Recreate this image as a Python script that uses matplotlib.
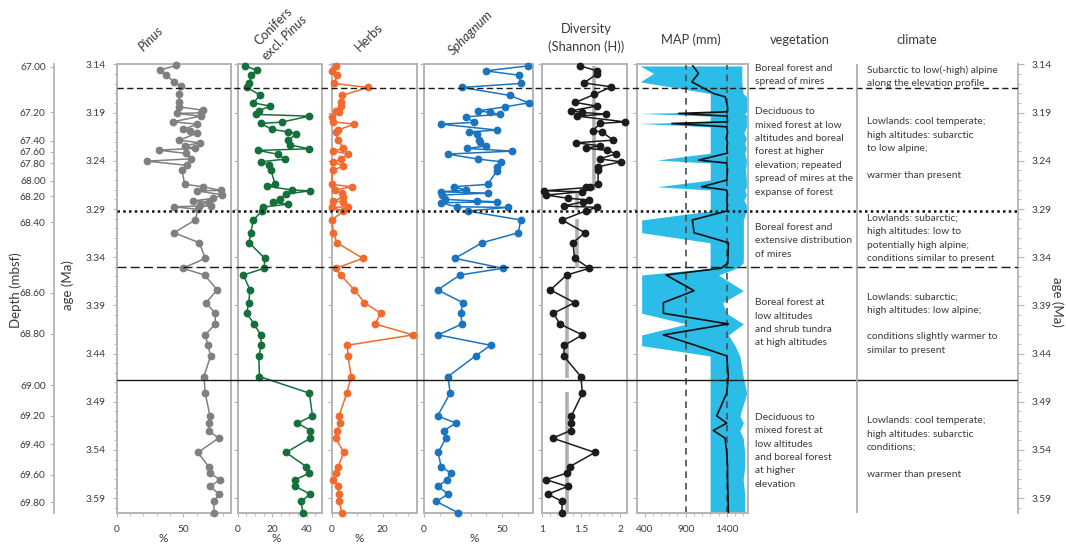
import matplotlib
matplotlib.use('Agg')
import matplotlib.pyplot as plt
from matplotlib.ticker import FixedLocator, MultipleLocator

plt.rcParams['font.family'] = ['Lato', 'DejaVu Sans']
plt.rcParams['mathtext.fontset'] = 'custom'
plt.rcParams['mathtext.rm'] = 'Lato'
plt.rcParams['mathtext.it'] = 'Lato:italic'

# ---------------- data ----------------
age_ticks = [3.14, 3.19, 3.24, 3.29, 3.34, 3.39, 3.44, 3.49, 3.54, 3.59]
depth_ticks = ["67.00", "67.20", "67.40", "67.60", "67.80", "68.00", "68.20", "68.40",
               "68.60", "68.80", "69.00", "69.20", "69.40", "69.60", "69.80"]
depth_tick_age = [3.1425, 3.1898, 3.2192, 3.2306, 3.2427, 3.2607, 3.2766, 3.3035,
                  3.3770, 3.4197, 3.4729, 3.5044, 3.5344, 3.5656, 3.5942]

# zone boundaries (age, Ma)
zone_dashed_top = 3.1639
zone_dotted = 3.2921
zone_dashed_mid = 3.3505
zone_solid = 3.4673

# shared sample ages of the lower (sparser) part
lower_age = [3.3014, 3.3146, 3.3250, 3.3412, 3.3515, 3.3585, 3.3740, 3.3872, 3.3982,
             3.4093, 3.4207, 3.4314, 3.4425, 3.4639, 3.4811, 3.5047, 3.5122, 3.5199,
             3.5278, 3.5427, 3.5573, 3.5641, 3.5710, 3.5780, 3.5859, 3.5935, 3.6050]

pinus_up_age = [3.1410, 3.1459, 3.1504, 3.1584, 3.1625, 3.1711, 3.1791, 3.1840, 3.1874,
                3.1902, 3.1908, 3.1936, 3.1995, 3.2019, 3.2074, 3.2092, 3.2115, 3.2185,
                3.2213, 3.2244, 3.2271, 3.2289, 3.2323, 3.2379, 3.2403, 3.2447, 3.2493,
                3.2644, 3.2669, 3.2707, 3.2711, 3.2752, 3.2789, 3.2817, 3.2825, 3.2859,
                3.2866, 3.2877, 3.2904]
pinus_up = [44.5, 32.5, 37, 43, 48, 46.5, 47, 46.5, 65, 63, 45, 63, 42, 60.5, 50, 55, 60,
            47, 62.5, 51, 59, 31.5, 52, 56, 22.5, 53, 49, 51, 65, 78, 60, 79, 72.5, 57,
            69, 62.5, 71, 43, 61]
pinus_low = [59, 43, 62, 66.5, 49.5, 66, 75.5, 67, 74, 74, 66.5, 68.5, 70.5, 65.5, 66.5,
             70, 69, 69, 76.5, 61, 69, 70, 77.5, 70, 77, 73, 73]

conif_up_age = [3.1415, 3.1462, 3.1511, 3.1591, 3.1638, 3.1718, 3.1798, 3.1832, 3.1881,
                3.1918, 3.1936, 3.1998, 3.2012, 3.2074, 3.2099, 3.2120, 3.2188, 3.2234,
                3.2275, 3.2292, 3.2333, 3.2382, 3.2410, 3.2444, 3.2496, 3.2641, 3.2662,
                3.2703, 3.2711, 3.2745, 3.2794, 3.2831, 3.2849, 3.2880, 3.2918]
conif_up = [4.4, 11.4, 7.9, 6.8, 5.4, 12.9, 9.1, 18.7, 12.2, 10.6, 41.5, 25.5, 13.7, 19.7,
            29.4, 34, 29, 30.3, 41.2, 11.8, 23.6, 27.2, 13.7, 18.4, 19.3, 21.6, 16.8, 31.5,
            41.9, 28, 24.5, 20.3, 29.4, 14.5, 14.1]
conif_low = [9.1, 7.5, 6.6, 15.7, 15.3, 3.3, 7.1, 6.4, 5.2, 9.5, 13.3, 13.7, 12.2, 12.6,
             41.5, 43.3, 34.6, 42.1, 42.1, 28, 39.6, 41.5, 33.4, 33.4, 42.1, 36.7, 37.7]

herbs_up_age = [3.1415, 3.1466, 3.1511, 3.1597, 3.1638, 3.1721, 3.1794, 3.1829, 3.1881,
                3.1898, 3.1943, 3.1995, 3.2019, 3.2081, 3.2099, 3.2185, 3.2271, 3.2296,
                3.2330, 3.2385, 3.2410, 3.2455, 3.2496, 3.2644, 3.2669, 3.2703, 3.2735,
                3.2773, 3.2817, 3.2825, 3.2877, 3.2883, 3.2921]
herbs_up = [1.6, 0, 2.2, 1, 14.1, 4.2, 3.5, 3.5, 1.6, 3, 0, 0.7, 8.8, 2.4, 1.6, 2.4, 4.6,
            0.7, 6.3, 3.5, 0.7, 4.6, 0.4, 0, 7.8, 1.3, 3.9, 4.6, 0.7, 4.6, 6.5, 0, 4.6]
herbs_low = [0, 0.7, 2, 12.2, 1.7, 3.5, 8.9, 12.8, 19.2, 17, 31.8, 6.1, 6.4, 7.6, 5.9, 2.9,
             3.3, 2.2, 1.6, 4.7, 2.6, 1.6, 0.7, 2.6, 2.9, 3, 3.9]

sphag_up_age = [3.1415, 3.1466, 3.1511, 3.1597, 3.1638, 3.1721, 3.1798, 3.1840, 3.1881,
                3.1898, 3.1918, 3.1943, 3.2001, 3.2019, 3.2081, 3.2099, 3.2123, 3.2185,
                3.2209, 3.2247, 3.2271, 3.2299, 3.2330, 3.2382, 3.2410, 3.2462, 3.2503,
                3.2644, 3.2669, 3.2703, 3.2721, 3.2735, 3.2755, 3.2800, 3.2817, 3.2825,
                3.2835, 3.2877, 3.2883, 3.2921]
sphag_up = [66.6, 39.4, 60.9, 61.9, 24.5, 54.9, 67, 51.9, 34.7, 42.3, 48.5, 26.6, 32.1,
            10.9, 47, 29.1, 34, 35.3, 35.7, 39.8, 27.4, 56.4, 15.1, 34.7, 49.6, 46.6, 46.6,
            40.9, 18.9, 27.2, 10.9, 40.9, 11.3, 13.4, 34, 47, 10.9, 20.9, 53.8, 27.9]
sphag_low = [61.9, 60.4, 37.2, 19.8, 50.4, 23, 8.7, 24.9, 23.6, 24.3, 9.1, 42.6, 33, 15.3,
             16.8, 8.7, 20.4, 12.8, 14, 9.1, 10.9, 17.2, 14.5, 9.1, 15.5, 7.9, 21.5]

div_up_age = [3.1415, 3.1466, 3.1501, 3.1591, 3.1632, 3.1711, 3.1794, 3.1832, 3.1881,
              3.1898, 3.1915, 3.1936, 3.1995, 3.2012, 3.2089, 3.2099, 3.2185, 3.2213,
              3.2244, 3.2268, 3.2292, 3.2327, 3.2379, 3.2410, 3.2462, 3.2496, 3.2644,
              3.2669, 3.2675, 3.2711, 3.2721, 3.2755, 3.2789, 3.2807, 3.2825, 3.2869,
              3.2883, 3.2918]
div_up = [1.49, 1.71, 1.70, 1.54, 1.89, 1.67, 1.43, 1.70, 1.37, 1.52, 1.82, 1.45, 2.06,
          1.75, 1.65, 1.77, 1.91, 1.44, 1.75, 1.56, 1.84, 1.95, 1.74, 2.01, 1.72, 1.72,
          1.72, 1.57, 1.62, 1.03, 1.51, 1.06, 1.34, 1.61, 1.53, 1.28, 1.70, 1.57]
div_low = [1.26, 1.55, 1.40, 1.42, 1.61, 1.32, 1.11, 1.42, 1.15, 1.23, 1.52, 1.29, 1.28,
           1.50, 1.52, 1.38, 1.38, 1.37, 1.14, 1.68, 1.36, 1.32, 1.06, 1.33, 1.08, 1.26, 1.26]

# zone means of diversity
div_mean_top = [3.1415, 3.2711, 3.3007, 3.3564, 3.4795]
div_mean_bot = [3.2703, 3.2911, 3.3515, 3.4653, 3.6052]
div_mean_val = [1.67, 1.45, 1.45, 1.32, 1.32]

# MAP reconstruction (mm): min, mean, max
map_age = [3.1415, 3.1493, 3.1580, 3.1701, 3.1736, 3.1840, 3.1891, 3.1908, 3.1936, 3.1995,
           3.2012, 3.2047, 3.2112, 3.2164, 3.2216, 3.2268, 3.2320, 3.2392, 3.2423, 3.2496,
           3.2600, 3.2669, 3.2703, 3.2755, 3.2807, 3.2859, 3.2921, 3.3014, 3.3146, 3.3250,
           3.3408, 3.3463, 3.3515, 3.3585, 3.3748, 3.3872, 3.3982, 3.4093, 3.4207, 3.4318,
           3.4425, 3.4639, 3.4811, 3.5047, 3.5122, 3.5199, 3.5278, 3.5427, 3.5573, 3.5710,
           3.5856, 3.6050]
map_min = [345, 507, 345, 1199, 1199, 1199, 1199, 345, 1199, 1199, 330, 1199, 1199, 1199,
           1199, 1199, 1199, 548, 1199, 1199, 1199, 548, 1199, 1199, 1199, 1199, 1199, 363,
           363, 1197, 1197, 1197, 1197, 363, 363, 363, 363, 912, 363, 363, 1197, 1197, 1197,
           1197, 1197, 1197, 1197, 1197, 1197, 1197, 1197, 1197]
map_mean = [987, 1056, 974, 1239, 1382, 1410, 1410, 812, 1405, 1410, 731, 1400, 1410, 1395,
            1410, 1400, 1410, 1056, 1400, 1410, 1400, 1096, 1400, 1410, 1400, 1410, 1400, 981,
            1002, 1420, 1415, 1412, 1330, 660, 1002, 628, 628, 1420, 628, 1030, 1400, 1420,
            1400, 1278, 1400, 1237, 1380, 1400, 1410, 1410, 1415, 1420]
map_max = [1584, 1584, 1584, 1600, 1645, 1645, 1645, 1620, 1645, 1640, 1640, 1640, 1610,
           1640, 1620, 1640, 1620, 1640, 1640, 1630, 1640, 1640, 1620, 1640, 1610, 1640, 1640,
           1603, 1603, 1603, 1603, 1600, 1520, 1300, 1603, 1350, 1400, 1603, 1420, 1500,
           1560, 1600, 1644, 1560, 1603, 1560, 1600, 1620, 1620, 1600, 1620, 1620]
map_ref_lines = [900, 1400]

vegetation = [
    ["Boreal forest and", "spread of mires"],
    ["Deciduous to", "mixed forest at low", "altitudes and boreal", "forest at higher",
     "elevation; repeated", "spread of mires at the", "expanse of forest"],
    ["Boreal forest and", "extensive distribution", "of mires"],
    ["Boreal forest at", "low altitudes", "and shrub tundra", "at high altitudes"],
    ["Deciduous to", "mixed forest at", "low altitudes", "and boreal forest", "at higher",
     "elevation"],
]
climate = [
    ["Subarctic to low(-high) alpine", "along the elevation profile"],
    ["Lowlands: cool temperate;", "high altitudes: subarctic", "to low alpine;", "",
     "warmer than present"],
    ["Lowlands: subarctic;", "high altitudes: low to", "potentially high alpine;",
     "conditions similar to present"],
    ["Lowlands: subarctic;", "high altitudes: low alpine;", "",
     "conditions slightly warmer to", "similar to present"],
    ["Lowlands: cool temperate;", "high altitudes: subarctic", "conditions;", "",
     "warmer than present"],
]

# ---------------- layout helpers ----------------
W, H = 1066, 544
fig = plt.figure(figsize=(W / 100, H / 100), dpi=100)


def fx(px):
    return px / W


def fy(py):
    return 1 - py / H


AGE_TOP, AGE_BOT = 3.1398, 3.6052
Y0, Y1 = fy(512.7), fy(64.3)
SPINE = '#b4b4b4'
TXT = '#3a3a3a'


def panel(left, right, xlim, xticks, minor):
    ax = fig.add_axes([fx(left), Y0, fx(right) - fx(left), Y1 - Y0])
    ax.set_xlim(*xlim)
    ax.set_ylim(AGE_BOT, AGE_TOP)
    for s in ax.spines.values():
        s.set_color(SPINE)
        s.set_linewidth(1.4)
    ax.set_xticks(xticks)
    ax.xaxis.set_minor_locator(MultipleLocator(minor))
    ax.tick_params(axis='x', which='both', direction='out', color=SPINE, labelsize=7.3,
                   labelcolor=TXT, pad=6)
    ax.tick_params(axis='x', which='major', length=3)
    ax.tick_params(axis='x', which='minor', length=2)
    ax.yaxis.set_major_locator(FixedLocator(age_ticks))
    ax.tick_params(axis='y', which='both', direction='out', color=SPINE, length=3,
                   labelleft=False)
    ax.patch.set_alpha(0)
    return ax


def series(ax, up_age, up, low, color):
    ax.plot(up + low, up_age + lower_age, '-o', color=color, lw=1.1, ms=4.6,
            clip_on=False, zorder=3)


ax_p = panel(116.7, 230.7, (0, 85.6), [0, 50], 10)
series(ax_p, pinus_up_age, pinus_up, pinus_low, '#808080')
ax_p.yaxis.set_minor_locator(MultipleLocator(0.01))
ax_p.tick_params(axis='y', which='major', labelleft=True, labelsize=7.3, labelcolor=TXT,
                 length=3, pad=5)
ax_p.tick_params(axis='y', which='minor', length=2, color=SPINE)
ax_p.set_yticklabels([f"{a:.2f}" for a in age_ticks])

ax_c = panel(237.7, 322.3, (0, 49), [0, 20, 40], 5)
series(ax_c, conif_up_age, conif_up, conif_low, '#13703a')

ax_h = panel(331.7, 416.7, (0, 33.3), [0, 20], 5)
series(ax_h, herbs_up_age, herbs_up, herbs_low, '#f26a2e')

ax_s = panel(424, 533, (0, 69.8), [0, 50], 10)
series(ax_s, sphag_up_age, sphag_up, sphag_low, '#1a74c0')

ax_d = panel(541.7, 627.3, (1, 2.093), [1, 1.5, 2], 0.1)
ax_d.set_xticklabels(["1", "1.5", "2"])
ax_d.vlines(div_mean_val, div_mean_top, div_mean_bot, color='#b0b0b0', lw=2.6, zorder=2)
series(ax_d, div_up_age, div_up, div_low, '#1c1c1c')

ax_m = panel(637.3, 748.3, (310, 1663), [400, 900, 1400], 100)
ax_m.fill_betweenx(map_age, map_min, map_max, color='#2bbde7', lw=0, zorder=1)
for v in map_ref_lines:
    ax_m.axvline(v, color='#4d4d4d', lw=1.2, ls=(0, (4, 3)), zorder=2)
ax_m.plot(map_mean, map_age, color='#111111', lw=1.2, zorder=3)

# depth axis
ax_dep = fig.add_axes([fx(54), Y0, 0.0001, Y1 - Y0])
ax_dep.set_ylim(AGE_BOT, AGE_TOP)
for k, s in ax_dep.spines.items():
    s.set_visible(k == 'left')
ax_dep.spines['left'].set_color(SPINE)
ax_dep.spines['left'].set_linewidth(1.3)
ax_dep.set_xticks([])
ax_dep.set_yticks(depth_tick_age)
ax_dep.set_yticklabels(depth_ticks)
ax_dep.tick_params(axis='y', direction='out', length=3, color=SPINE, labelsize=7.3,
                   labelcolor=TXT, pad=3)
ax_dep.patch.set_alpha(0)

# right age axis
ax_r = fig.add_axes([fx(1017.9), Y0, 0.0001, Y1 - Y0])
ax_r.set_ylim(AGE_BOT, AGE_TOP)
for k, s in ax_r.spines.items():
    s.set_visible(k == 'right')
ax_r.spines['right'].set_color(SPINE)
ax_r.spines['right'].set_linewidth(1.3)
ax_r.set_xticks([])
ax_r.yaxis.tick_right()
ax_r.yaxis.set_major_locator(FixedLocator(age_ticks))
ax_r.yaxis.set_minor_locator(MultipleLocator(0.01))
ax_r.set_yticklabels([f"{a:.2f}" for a in age_ticks])
ax_r.tick_params(axis='y', which='both', direction='out', color=SPINE, labelsize=7.3,
                 labelcolor=TXT, pad=6)
ax_r.tick_params(axis='y', which='major', length=4)
ax_r.tick_params(axis='y', which='minor', length=2)
ax_r.patch.set_alpha(0)

# overlay for zone lines and column separator
ax_o = fig.add_axes([fx(116.7), Y0, fx(1017.9) - fx(116.7), Y1 - Y0])
ax_o.set_xlim(116.7, 1017.9)
ax_o.set_ylim(AGE_BOT, AGE_TOP)
ax_o.axis('off')
ax_o.axhline(zone_dashed_top, color='#1a1a1a', lw=1.0, ls=(0, (4.5, 2.5)))
ax_o.axhline(zone_dotted, color='#111111', lw=1.8, ls=(0, (1, 1.3)))
ax_o.axhline(zone_dashed_mid, color='#1a1a1a', lw=1.0, ls=(0, (6.5, 3)))
ax_o.axhline(zone_solid, color='#1a1a1a', lw=1.0)
ax_o.axvline(856.5, color='#a8a8a8', lw=1.2)

# text columns
zone_text_top = [[68.3, 70.0], [111.7, 121.7], [227.3, 218.3], [302.7, 296.7],
                 [417.3, 420.7]]
LS = 13.4
for i, (veg, cli) in enumerate(zip(vegetation, climate)):
    for j, line in enumerate(veg):
        fig.text(fx(755), fy(zone_text_top[i][0] + j * LS), line, fontsize=7.4,
                 color=TXT, va='center', ha='left')
    for j, line in enumerate(cli):
        fig.text(fx(867), fy(zone_text_top[i][1] + j * LS), line, fontsize=7.4,
                 color=TXT, va='center', ha='left')

# headers
hdr = dict(fontsize=9.3, color=TXT)
fig.text(fx(145), fy(53), "Pinus", rotation=45, rotation_mode='anchor', ha='left',
         va='bottom', style='italic', **hdr)
fig.text(fx(268), fy(63), "Conifers\nexcl. $\\mathit{Pinus}$", rotation=45,
         rotation_mode='anchor', ha='left', va='bottom', multialignment='center', **hdr)
fig.text(fx(361), fy(53), "Herbs", rotation=45, rotation_mode='anchor', ha='left',
         va='bottom', **hdr)
fig.text(fx(455), fy(57), "Sphagnum", rotation=45, rotation_mode='anchor', ha='left',
         va='bottom', style='italic', **hdr)
fig.text(fx(586), fy(38), "Diversity\n(Shannon (H))", ha='center', va='center',
         multialignment='center', linespacing=1.5, **hdr)
fig.text(fx(691), fy(40), "MAP (mm)", ha='center', va='center', **hdr)
fig.text(fx(800), fy(40), "vegetation", ha='center', va='center', **hdr)
fig.text(fx(917), fy(40), "climate", ha='center', va='center', **hdr)

# axis titles
fig.text(fx(16), fy(290), "Depth (mbsf)", rotation=90, ha='center', va='center',
         fontsize=9.5, color=TXT)
fig.text(fx(68), fy(285), "age (Ma)", rotation=90, ha='center', va='center',
         fontsize=9.5, color=TXT)
fig.text(fx(1057), fy(302), "age (Ma)", rotation=-90, ha='center', va='center',
         fontsize=9.5, color=TXT)
for xp in [163, 276, 359, 474]:
    fig.text(fx(xp), fy(539), "%", ha='center', va='center', fontsize=8.5, color=TXT)

fig.savefig('out.png', dpi=100)
